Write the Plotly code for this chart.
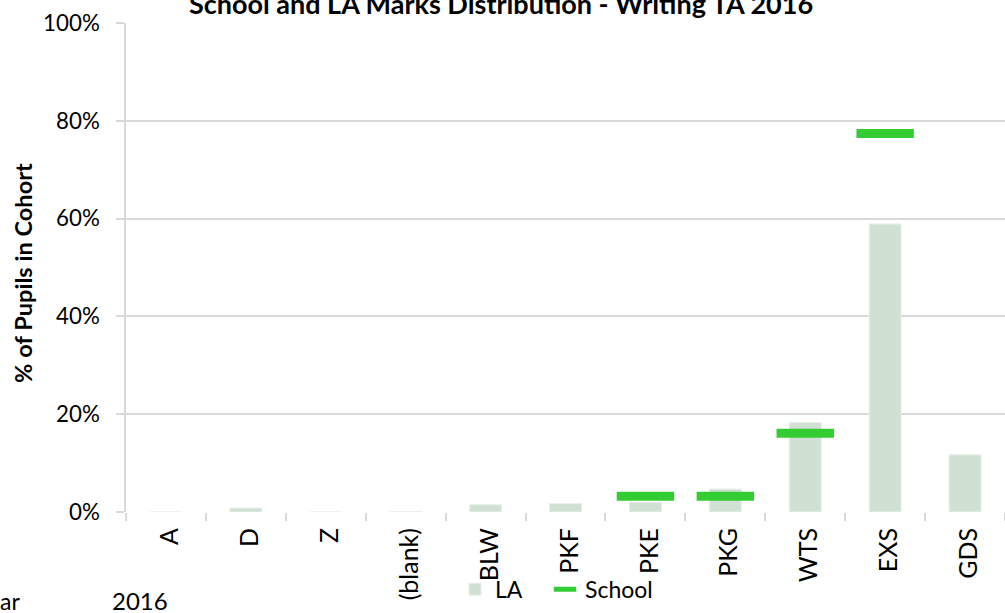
import plotly.graph_objects as go

categories = ["A", "D", "Z", "(blank)", "BLW", "PKF", "PKE", "PKG", "WTS", "EXS", "GDS"]
la_values = [0.0, 0.008, 0.0, 0.001, 0.015, 0.0175, 0.020, 0.047, 0.183, 0.589, 0.117]
school_values = [None, None, None, None, None, None, 0.032, 0.032, 0.161, 0.774, None]
y_ticks = [0, 0.2, 0.4, 0.6, 0.8, 1.0]
y_tick_labels = ["0%", "20%", "40%", "60%", "80%", "100%"]

FONT = "Lato"
GRID = "#D9D9D9"
PLOT_L, PLOT_W = 126, 879
PLOT_B, PLOT_H = 512.3, 489


def px_x(x):
    return (x - PLOT_L) / PLOT_W


def px_y(y):
    return (PLOT_B - y) / PLOT_H


fig = go.Figure()
fig.add_trace(go.Bar(
    x=categories, y=la_values, name="LA", legend="legend",
    marker=dict(color="#D0E0D2", line=dict(color="#E8F0E9", width=1)),
))
fig.add_trace(go.Scatter(
    x=categories, y=school_values, name="School", mode="markers", legend="legend2",
    marker=dict(symbol="line-ew", size=41, color="#33CC33",
                line=dict(color="#33CC33", width=9)),
))

legend_common = dict(orientation="h", xanchor="left", yanchor="middle",
                     font=dict(family=FONT, size=23, color="#000000"),
                     bgcolor="rgba(0,0,0,0)")

fig.update_layout(
    width=1005, height=613,
    margin=dict(l=126, r=0, t=23, b=101, autoexpand=False),
    paper_bgcolor="white", plot_bgcolor="white",
    bargap=0.6,
    font=dict(family=FONT, size=23, color="#000000"),
    showlegend=True,
    legend=dict(x=px_x(455), y=px_y(589.5), **legend_common),
    legend2=dict(x=px_x(545), y=px_y(589.5), **legend_common),
    xaxis=dict(
        type="category", range=[-0.5, len(categories) - 0.5],
        tickangle=-90, ticks="outside", tickson="boundaries",
        ticklen=8, tickcolor=GRID, tickwidth=1.5, automargin=False,
        ticklabelstandoff=10, ticklabelshift=4,
        showline=False, showgrid=False, zeroline=False,
        tickfont=dict(family=FONT, size=25, color="#000000"),
    ),
    yaxis=dict(
        range=[0, 1], tickvals=y_ticks, ticktext=y_tick_labels,
        ticks="outside", ticklen=8, tickcolor=GRID, tickwidth=1.5,
        ticklabelstandoff=12,
        showgrid=True, gridcolor=GRID, gridwidth=1.5,
        showline=True, linecolor=GRID, linewidth=1.5,
        zeroline=False, automargin=False,
        tickfont=dict(family=FONT, size=22.3, color="#000000"),
    ),
)

fig.add_annotation(
    text="<b>School and LA Marks Distribution - Writing TA 2016</b>",
    xref="paper", yref="paper", x=px_x(500.5), y=1 + (23.3 - 3.5) / PLOT_H,
    xanchor="center", yanchor="middle", showarrow=False,
    font=dict(family=FONT, size=27, color="#000000"),
)
fig.add_annotation(
    text="<b>% of Pupils in Cohort</b>", textangle=-90,
    xref="paper", yref="paper", x=px_x(23.2), y=px_y(273),
    xanchor="center", yanchor="middle", showarrow=False,
    font=dict(family=FONT, size=23.6, color="#000000"),
)
fig.add_annotation(text="ar", xref="paper", yref="paper", x=px_x(-2), y=px_y(601),
                   xanchor="left", yanchor="middle", showarrow=False,
                   font=dict(family=FONT, size=23, color="#000000"))
fig.add_annotation(text="2016", xref="paper", yref="paper", x=px_x(110), y=px_y(601),
                   xanchor="left", yanchor="middle", showarrow=False,
                   font=dict(family=FONT, size=24, color="#000000"))

fig.write_html("out.html", config={"displayModeBar": False},
               post_script="document.body.style.margin='0';document.body.style.overflow='hidden';")
